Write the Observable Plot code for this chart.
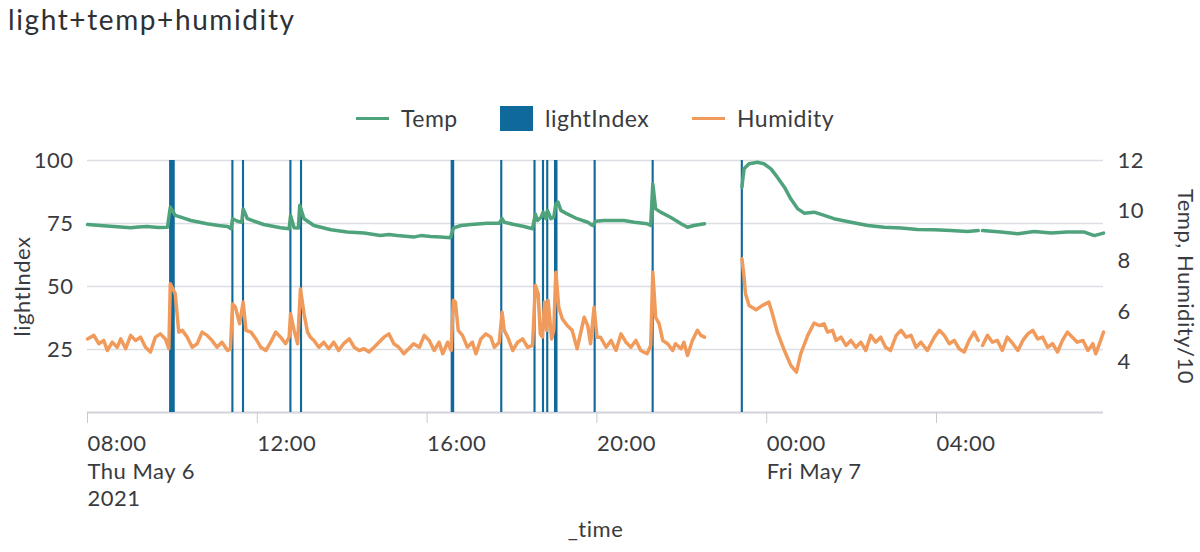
<!DOCTYPE html>
<html>
<head>
<meta charset="utf-8">
<script src="https://cdn.jsdelivr.net/npm/d3@7"></script>
<script src="https://cdn.jsdelivr.net/npm/@observablehq/plot@0.6"></script>
<style>
  html, body { margin: 0; padding: 0; background: #fff; }
  body { width: 1200px; height: 552px; position: relative; overflow: hidden; font-family: Lato, "Noto Sans", sans-serif; color: #333; }
  #title { position: absolute; left: 8px; top: 2px; font-size: 28px; letter-spacing: 1.6px; color: #2f3033; }
  #legend { position: absolute; left: 0; top: 103px; width: 1200px; height: 30px; font-size: 23px; letter-spacing: 0.5px; color: #3a3b3f; }
  .item { position: absolute; top: 0; height: 30px; display: flex; align-items: center; }
  .line { width: 33px; height: 3px; margin-right: 12px; }
  .sq { width: 33px; height: 25px; margin-right: 12px; }
  #chart { position: absolute; left: 0; top: 140px; }
</style>
</head>
<body>
<div id="title">light+temp+humidity</div>
<div id="legend"></div>
<div id="chart"></div>
<script>
// ---- data (clock times; hours before 08:00 belong to Fri May 7) ----
const seriesNames = ["Temp", "lightIndex", "Humidity"];
const seriesColors = ["#4fa37c", "#10699b", "#f09a5b"];

// lightIndex events: start, end, value
const lightStart = ["09:56","11:24","11:39","12:46","13:01","16:34","17:44","18:31","18:43","18:49","19:00","19:56","21:18","23:24"];
const lightEnd   = ["10:04","11:27","11:42","12:49","13:04","16:39","17:47","18:34","18:46","18:52","19:05","19:59","21:21","23:27"];
const lightValue = [100,100,100,100,100,100,100,100,100,100,100,100,100,100];

// Temp (°C), null = no data
const temp = [
  ["08:00",9.46],["08:18",9.42],["08:37",9.38],["09:01",9.33],["09:12",9.36],["09:24",9.38],["09:40",9.34],["09:53",9.35],
  ["09:57",10.15],["10:04",9.82],["10:15",9.72],["10:26",9.62],["10:49",9.49],["11:05",9.42],["11:18",9.38],["11:23",9.29],
  ["11:25",9.69],["11:32",9.59],["11:38",9.55],["11:40",10.08],["11:46",9.69],["12:09",9.46],["12:20",9.40],["12:33",9.33],["12:45",9.29],
  ["12:47",9.82],["12:52",9.33],["12:58",9.32],["13:00",10.22],["13:06",9.69],["13:20",9.42],["13:44",9.25],["14:07",9.16],
  ["14:31",9.12],["14:54",9.02],["15:06",9.06],["15:18",9.02],["15:41",8.96],["15:51",9.02],["16:05",8.98],["16:19",8.96],["16:33",8.93],
  ["16:36",9.22],["16:38",9.33],["16:48",9.42],["17:02",9.46],["17:25",9.51],["17:42",9.51],["17:46",9.69],["17:49",9.55],
  ["18:03",9.46],["18:17",9.38],["18:29",9.29],["18:33",9.88],["18:36",9.62],["18:41",9.75],["18:44",9.95],["18:48",9.69],
  ["18:50",10.02],["18:55",9.69],["18:59",9.75],["19:02",10.28],["19:05",10.35],["19:09",10.02],["19:18",9.88],["19:32",9.69],
  ["19:47",9.55],["19:54",9.42],["19:58",9.59],["20:10",9.62],["20:24",9.62],["20:38",9.62],["20:53",9.55],["21:11",9.49],
  ["21:16",9.42],["21:19",11.07],["21:23",10.08],["21:30",9.95],["21:44",9.75],["21:59",9.49],["22:08",9.35],["22:17",9.42],
  ["22:32",9.49],["22:50",null],
  ["23:25",10.94],["23:26",11.21],["23:28",11.67],["23:35",11.87],["23:47",11.93],["23:56",11.87],["00:06",11.67],["00:15",11.34],
  ["00:25",10.94],["00:34",10.48],["00:44",10.08],["00:53",9.91],["01:07",9.95],["01:17",9.86],["01:35",9.69],["01:59",9.55],
  ["02:23",9.42],["02:46",9.35],["03:10",9.32],["03:33",9.26],["03:57",9.25],["04:20",9.22],["04:44",9.18],["04:59",9.22],
  ["05:02",null],
  ["05:05",9.22],["05:31",9.16],["05:55",9.09],["06:18",9.18],["06:42",9.12],["07:05",9.16],["07:29",9.16],["07:43",9.02],["07:56",9.12]
];

// Humidity (%), null = no data
const humidity = [
  ["08:00",49.2],["08:09",50.6],["08:16",47.3],["08:23",48.6],["08:28",44.6],["08:35",47.9],["08:42",45.9],["08:47",49.2],
  ["08:54",45.3],["09:01",50.6],["09:08",48.6],["09:15",49.9],["09:22",45.9],["09:29",44.0],["09:36",49.9],["09:43",51.2],
  ["09:50",49.2],["09:55",45.3],["09:57",71.1],["10:04",67.1],["10:09",51.9],["10:14",52.6],["10:21",49.9],["10:28",45.9],
  ["10:35",47.3],["10:42",51.9],["10:49",50.6],["10:56",48.6],["11:03",45.9],["11:10",47.9],["11:18",44.6],["11:22",45.3],
  ["11:25",63.1],["11:29",61.8],["11:35",55.2],["11:40",63.8],["11:44",52.6],["11:51",51.9],["11:58",49.2],["12:05",45.9],
  ["12:12",44.6],["12:19",47.9],["12:26",51.9],["12:33",49.9],["12:40",47.3],["12:45",49.9],["12:47",59.2],["12:52",52.6],
  ["12:57",47.3],["13:01",69.1],["13:06",59.2],["13:11",51.9],["13:15",49.9],["13:20",48.6],["13:27",45.9],["13:34",47.9],
  ["13:41",45.3],["13:48",47.9],["13:55",44.6],["14:02",47.3],["14:10",49.2],["14:17",45.9],["14:24",44.6],["14:31",45.3],
  ["14:38",44.0],["14:45",45.9],["14:52",47.9],["14:59",49.9],["15:06",51.2],["15:13",47.3],["15:20",45.9],["15:27",43.3],
  ["15:34",45.3],["15:41",47.3],["15:49",45.9],["15:56",50.6],["16:03",48.6],["16:10",44.6],["16:17",47.9],["16:22",43.3],
  ["16:29",47.9],["16:34",44.6],["16:37",64.5],["16:40",63.8],["16:44",52.6],["16:50",50.6],["16:57",45.9],["17:04",47.9],
  ["17:09",43.3],["17:16",49.2],["17:23",51.2],["17:30",49.9],["17:35",45.9],["17:42",47.9],["17:46",59.8],["17:49",52.6],
  ["17:54",49.9],["18:01",44.6],["18:08",47.9],["18:15",49.2],["18:22",45.9],["18:29",46.6],["18:33",70.4],["18:37",67.1],
  ["18:40",51.2],["18:43",49.9],["18:46",63.8],["18:49",52.6],["18:51",64.5],["18:56",49.2],["18:59",52.6],["19:02",75.7],
  ["19:06",61.8],["19:11",57.2],["19:18",54.5],["19:25",52.6],["19:32",45.3],["19:42",57.8],["19:47",54.5],["19:51",47.3],
  ["19:56",61.8],["20:00",49.9],["20:05",49.9],["20:13",45.9],["20:20",48.6],["20:27",44.6],["20:34",51.2],["20:41",47.9],
  ["20:48",45.9],["20:55",48.6],["21:02",44.6],["21:11",43.3],["21:16",46.6],["21:19",75.7],["21:23",57.8],["21:28",55.2],
  ["21:33",48.6],["21:40",47.3],["21:47",44.6],["21:51",47.3],["21:59",45.3],["22:03",47.9],["22:08",42.6],["22:15",48.6],
  ["22:22",52.6],["22:27",50.6],["22:32",49.9],["22:50",null],
  ["23:25",81.0],["23:28",73.7],["23:30",67.1],["23:35",62.5],["23:45",60.8],["23:54",62.5],["00:03",63.8],["00:08",59.2],
  ["00:15",51.9],["00:25",44.6],["00:34",38.7],["00:42",36.0],["00:48",43.3],["00:58",50.6],["01:07",55.5],["01:14",54.5],
  ["01:21",55.2],["01:26",51.9],["01:33",52.6],["01:38",48.6],["01:45",49.9],["01:52",46.6],["01:59",48.6],["02:06",45.9],
  ["02:13",47.9],["02:20",44.6],["02:27",50.6],["02:34",47.9],["02:41",49.9],["02:48",45.9],["02:55",44.6],["03:03",50.6],
  ["03:10",52.6],["03:17",49.9],["03:24",50.6],["03:31",45.9],["03:38",47.9],["03:47",44.6],["03:57",49.9],["04:04",52.6],
  ["04:11",50.6],["04:18",47.3],["04:25",48.6],["04:32",45.3],["04:39",44.0],["04:46",48.6],["04:53",51.9],["04:59",48.6],
  ["05:02",null],
  ["05:05",46.6],["05:12",50.6],["05:19",47.9],["05:26",48.6],["05:33",44.6],["05:40",49.9],["05:48",47.3],["05:55",44.6],
  ["06:02",48.6],["06:09",51.2],["06:16",52.6],["06:23",49.2],["06:30",49.9],["06:37",45.9],["06:44",47.3],["06:51",44.0],
  ["06:58",48.6],["07:05",51.9],["07:12",49.9],["07:19",47.9],["07:27",48.6],["07:34",44.6],["07:41",47.3],["07:45",43.3],
  ["07:52",48.6],["07:56",51.9]
];

const xDomain = ["08:00", "07:56"];
const xTicks = ["08:00", "12:00", "16:00", "20:00", "00:00", "04:00"];
const xTickLabels = ["08:00\nThu May 6\n2021", "12:00", "16:00", "20:00", "00:00\nFri May 7", "04:00"];
const leftTicks = [25, 50, 75, 100];
const rightTicks = [4, 6, 8, 10, 12];

// ---- helpers ----
function toDate(hhmm) {
  const [h, m] = hhmm.split(":").map(Number);
  const day = h < 8 ? 7 : 6;
  return new Date(Date.UTC(2021, 4, day, h, m));
}
// right axis (Temp, Humidity/10) shares the plot with lightIndex: right 2..12 <-> left 0..100
const rightToLeft = v => (v - 2) * 10;

const lightData = lightStart.map((s, i) => ({start: toDate(s), end: toDate(lightEnd[i]), value: lightValue[i]}));
const tempData = temp.map(([t, v]) => ({t: toDate(t), v: v == null ? NaN : rightToLeft(v)}));
const humData = humidity.map(([t, v]) => ({t: toDate(t), v: v == null ? NaN : rightToLeft(v / 10)}));
const tickDates = xTicks.map(toDate);
const tickLabel = new Map(tickDates.map((d, i) => [+d, xTickLabels[i]]));

// legend
const legend = document.getElementById("legend");
const legendX = [356, 500, 692];
seriesNames.forEach((name, i) => {
  const it = document.createElement("div");
  it.className = "item";
  it.style.left = legendX[i] + "px";
  const sw = document.createElement("div");
  sw.className = name === "lightIndex" ? "sq" : "line";
  sw.style.background = seriesColors[i];
  const tx = document.createElement("span");
  tx.textContent = name;
  it.appendChild(sw); it.appendChild(tx);
  legend.appendChild(it);
});

const txt = "#3a3b3f";
const chart = Plot.plot({
  width: 1200,
  height: 412,
  marginLeft: 87,
  marginRight: 97,
  marginTop: 20,
  marginBottom: 140,
  style: {fontFamily: "Lato, 'Noto Sans', sans-serif", fontSize: "22px", letterSpacing: "0.5px", color: txt, background: "transparent"},
  x: {type: "utc", domain: xDomain.map(toDate)},
  y: {domain: [0, 100]},
  marks: [
    Plot.gridY(leftTicks, {stroke: "#dcdee4", strokeOpacity: 1, strokeWidth: 1.5}),
    Plot.ruleY([0], {stroke: "#d2d4da", strokeWidth: 2}),
    Plot.rect(lightData, {x1: "start", x2: "end", y1: 0, y2: "value", fill: seriesColors[1]}),
    Plot.line(tempData, {x: "t", y: "v", stroke: seriesColors[0], strokeWidth: 3.5, curve: "linear"}),
    Plot.line(humData, {x: "t", y: "v", stroke: seriesColors[2], strokeWidth: 3.5, curve: "linear"}),
    Plot.axisY(leftTicks, {anchor: "left", tickSize: 0, tickPadding: 14, label: null, fontSize: 22}),
    Plot.axisY(rightTicks.map(rightToLeft), {anchor: "right", tickSize: 0, tickPadding: 14, label: null, fontSize: 22, tickFormat: d => String(d / 10 + 2)}),
    Plot.axisX(tickDates, {anchor: "bottom", tickSize: 11, tickPadding: 8, stroke: "#c9cbd1", label: null, fontSize: 22,
      textAnchor: "start", lineHeight: 1.25, tickFormat: d => tickLabel.get(+d)}),
    Plot.text(["lightIndex"], {frameAnchor: "left", textAnchor: "middle", rotate: -90, dx: -65, fontSize: 22, fill: txt}),
    Plot.text(["Temp, Humidity/10"], {frameAnchor: "right", textAnchor: "middle", rotate: 90, dx: 82, fontSize: 22, fill: txt}),
    Plot.text(["_time"], {frameAnchor: "bottom", dy: 124, fontSize: 22, fill: txt})
  ]
});
document.getElementById("chart").appendChild(chart);
</script>
</body>
</html>
